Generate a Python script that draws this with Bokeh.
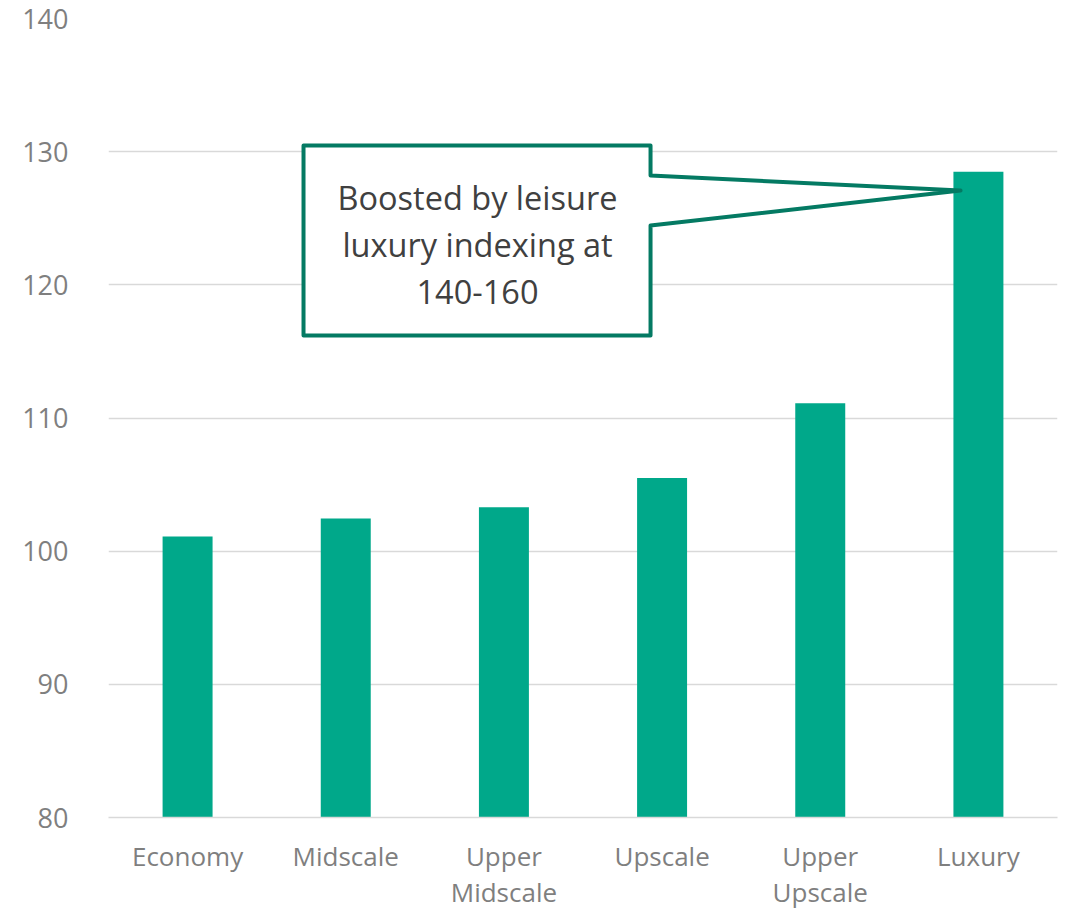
from bokeh.plotting import figure
from bokeh.models import Range1d, FixedTicker, ColumnDataSource
from bokeh.core.properties import value
from bokeh.embed import file_html
from bokeh.resources import INLINE

categories = ["Economy", "Midscale", "Upper Midscale", "Upscale", "Upper Upscale", "Luxury"]
tick_labels = ["Economy", "Midscale", "Upper\nMidscale", "Upscale", "Upper\nUpscale", "Luxury"]
values = [101.1, 102.45, 103.3, 105.5, 111.1, 128.5]
y_ticks = [80, 90, 100, 110, 120, 130, 140]
callout_text = "Boosted by leisure\nluxury indexing at\n140-160"

FONT = "Open Sans"
BAR = "#00A88A"
DARK = "#047A63"
GRAY = "#7F7F7F"

xs = [i + 0.5 for i in range(len(categories))]

p = figure(width=1066, height=912, output_backend="svg", toolbar_location=None,
           x_range=Range1d(0, len(categories)), y_range=Range1d(80, 140),
           min_border_left=108, min_border_top=18, min_border_right=9, min_border_bottom=10)
p.outline_line_color = None
p.background_fill_color = "white"

src = ColumnDataSource(dict(x=xs, top=values, cat=categories))
p.vbar(x="x", top="top", bottom=80, width=0.316, source=src, fill_color=BAR, line_color=None)

# grid / axes
p.xgrid.visible = False
p.ygrid.grid_line_color = "#D9D9D9"
p.ygrid.grid_line_width = 1.5
p.yaxis.ticker = FixedTicker(ticks=y_ticks)
p.yaxis.axis_line_color = None
p.yaxis.major_tick_line_color = None
p.yaxis.minor_tick_line_color = None
p.yaxis.major_label_text_font = FONT
p.yaxis.major_label_text_font_size = "27px"
p.yaxis.major_label_text_color = GRAY
p.yaxis.major_label_standoff = 34

p.xaxis.ticker = FixedTicker(ticks=xs)
p.xaxis.major_label_overrides = {x: lab for x, lab in zip(xs, tick_labels)}
p.xaxis.axis_line_color = "#D9D9D9"
p.xaxis.axis_line_width = 1.5
p.xaxis.major_tick_line_color = None
p.xaxis.minor_tick_line_color = None
p.xaxis.major_label_text_font = FONT
p.xaxis.major_label_text_font_size = "26px"
p.xaxis.major_label_text_color = GRAY
p.xaxis.major_label_text_line_height = 1.0
p.xaxis.major_label_standoff = 14

# callout (data coordinates)
L, R, T, B = 1.233, 3.427, 130.46, 116.2
y1, y2 = 128.21, 124.46
tipx, tipy = 5.387, 127.08
text_x, text_y = 2.333, 123.03
p.patch([L, R, R, tipx, R, R, L], [T, T, y1, tipy, y2, B, B],
        fill_color="white", line_color=DARK, line_width=4, line_join="round")
p.text(x=[text_x], y=[text_y], text=[callout_text],
       text_font=value(FONT), text_font_size="32.5px", text_color="#404040",
       text_align="center", text_baseline="middle", text_line_height=1.04)

open("out.html", "w").write(file_html(p, INLINE))
